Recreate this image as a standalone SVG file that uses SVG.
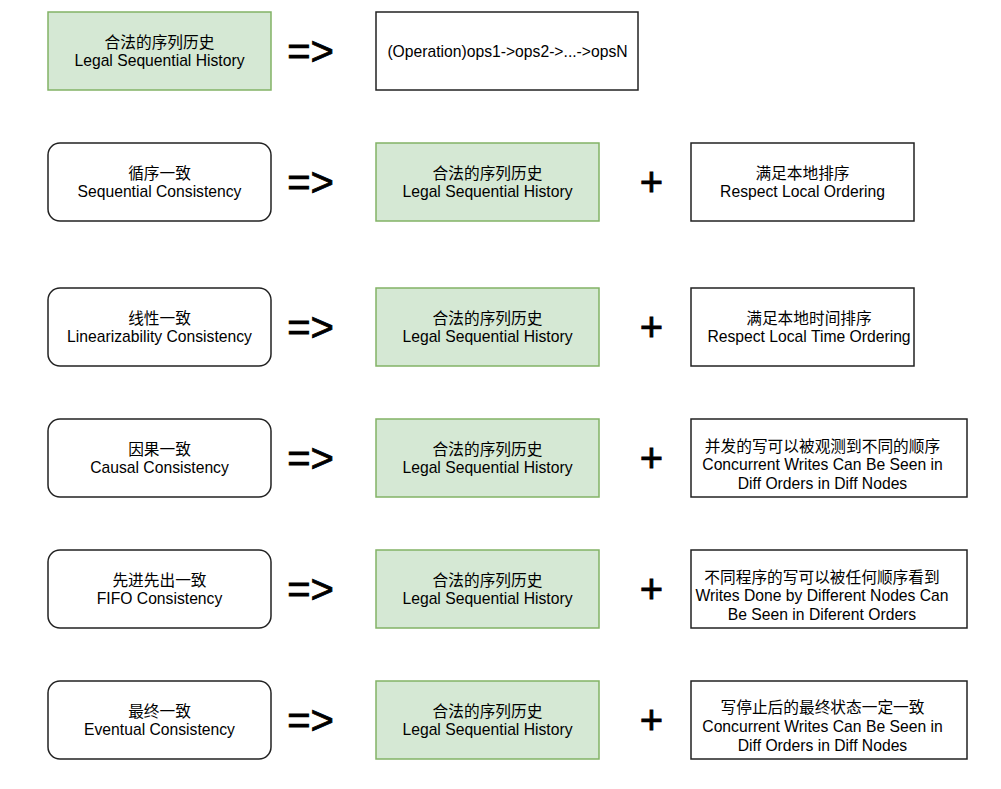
<svg xmlns="http://www.w3.org/2000/svg" width="1001" height="789" viewBox="0 0 1001 789">
<style>
.t{font-family:"Liberation Sans","Noto Sans CJK SC",Arial,sans-serif;font-size:15.7px;fill:#000;text-anchor:middle}
.g{fill:#d5e8d4;stroke:#82b366;stroke-width:1.5}
.w{fill:#fff;stroke:#222;stroke-width:1.5}
.op{font-family:"Liberation Sans",Arial,sans-serif;font-size:40px;font-weight:normal;fill:#000;text-anchor:middle;stroke:#000;stroke-width:0.8}
</style>
<rect width="1001" height="789" fill="#fff"/>
<g id="connectors">
<text class="op" x="310.5" y="65">=&gt;</text>
<text class="op" x="310.5" y="196">=&gt;</text>
<text class="op" x="310.5" y="341">=&gt;</text>
<text class="op" x="310.5" y="472">=&gt;</text>
<text class="op" x="310.5" y="603">=&gt;</text>
<text class="op" x="310.5" y="734">=&gt;</text>
<text class="op" x="651.5" y="196">+</text>
<text class="op" x="651.5" y="341">+</text>
<text class="op" x="651.5" y="472">+</text>
<text class="op" x="651.5" y="603">+</text>
<text class="op" x="651.5" y="734">+</text>
</g>
<g id="row1-legal">
<rect class="g" x="48" y="12" width="223" height="78"/>
<text class="t" x="159.5" y="48">合法的序列历史</text>
<text class="t" x="159.5" y="66">Legal Sequential History</text>
</g>
<g id="row1-ops">
<rect class="w" x="376" y="12" width="262" height="78"/>
<text class="t" x="507.5" y="57">(Operation)ops1-&gt;ops2-&gt;...-&gt;opsN</text>
</g>
<g id="row2-left">
<rect class="w" x="48" y="143" width="223" height="78" rx="12"/>
<text class="t" x="159.5" y="179">循序一致</text>
<text class="t" x="159.5" y="197">Sequential Consistency</text>
</g>
<g id="row2-legal">
<rect class="g" x="376" y="143" width="223" height="78"/>
<text class="t" x="487.5" y="179">合法的序列历史</text>
<text class="t" x="487.5" y="197">Legal Sequential History</text>
</g>
<g id="row2-right">
<rect class="w" x="691" y="143" width="223" height="78"/>
<text class="t" x="802.5" y="179">满足本地排序</text>
<text class="t" x="802.5" y="197">Respect Local Ordering</text>
</g>
<g id="row3-left">
<rect class="w" x="48" y="288" width="223" height="78" rx="12"/>
<text class="t" x="159.5" y="324">线性一致</text>
<text class="t" x="159.5" y="342">Linearizability Consistency</text>
</g>
<g id="row3-legal">
<rect class="g" x="376" y="288" width="223" height="78"/>
<text class="t" x="487.5" y="324">合法的序列历史</text>
<text class="t" x="487.5" y="342">Legal Sequential History</text>
</g>
<g id="row3-right">
<rect class="w" x="691" y="288" width="223" height="78"/>
<text class="t" x="809" y="324">满足本地时间排序</text>
<text class="t" x="809" y="342">Respect Local Time Ordering</text>
</g>
<g id="row4-left">
<rect class="w" x="48" y="419" width="223" height="78" rx="12"/>
<text class="t" x="159.5" y="455">因果一致</text>
<text class="t" x="159.5" y="473">Causal Consistency</text>
</g>
<g id="row4-legal">
<rect class="g" x="376" y="419" width="223" height="78"/>
<text class="t" x="487.5" y="455">合法的序列历史</text>
<text class="t" x="487.5" y="473">Legal Sequential History</text>
</g>
<g id="row4-right">
<rect class="w" x="691" y="419" width="276" height="78"/>
<text class="t" x="822.5" y="452">并发的写可以被观测到不同的顺序</text>
<text class="t" x="822.5" y="470">Concurrent Writes Can Be Seen in</text>
<text class="t" x="822.5" y="489">Diff Orders in Diff Nodes</text>
</g>
<g id="row5-left">
<rect class="w" x="48" y="550" width="223" height="78" rx="12"/>
<text class="t" x="159.5" y="586">先进先出一致</text>
<text class="t" x="159.5" y="604">FIFO Consistency</text>
</g>
<g id="row5-legal">
<rect class="g" x="376" y="550" width="223" height="78"/>
<text class="t" x="487.5" y="586">合法的序列历史</text>
<text class="t" x="487.5" y="604">Legal Sequential History</text>
</g>
<g id="row5-right">
<rect class="w" x="691" y="550" width="276" height="78"/>
<text class="t" x="822" y="583">不同程序的写可以被任何顺序看到</text>
<text class="t" x="822" y="601">Writes Done by Different Nodes Can</text>
<text class="t" x="822" y="620">Be Seen in Diferent Orders</text>
</g>
<g id="row6-left">
<rect class="w" x="48" y="681" width="223" height="78" rx="12"/>
<text class="t" x="159.5" y="717">最终一致</text>
<text class="t" x="159.5" y="735">Eventual Consistency</text>
</g>
<g id="row6-legal">
<rect class="g" x="376" y="681" width="223" height="78"/>
<text class="t" x="487.5" y="717">合法的序列历史</text>
<text class="t" x="487.5" y="735">Legal Sequential History</text>
</g>
<g id="row6-right">
<rect class="w" x="691" y="681" width="276" height="78"/>
<text class="t" x="822.5" y="713">写停止后的最终状态一定一致</text>
<text class="t" x="822.5" y="732">Concurrent Writes Can Be Seen in</text>
<text class="t" x="822.5" y="751">Diff Orders in Diff Nodes</text>
</g>
</svg>
